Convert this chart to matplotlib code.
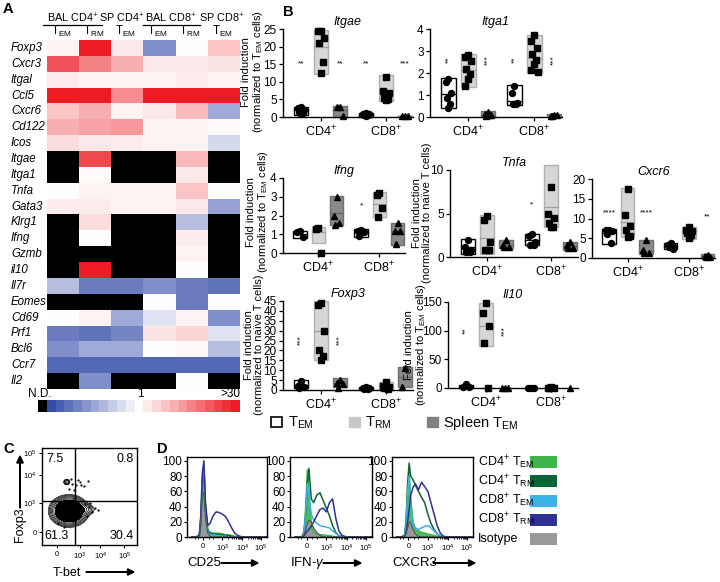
import numpy as np
import matplotlib
matplotlib.use('Agg')
import matplotlib.pyplot as plt
from matplotlib.colors import LinearSegmentedColormap
from matplotlib.patches import Rectangle, Patch, FancyArrow

plt.rcParams['font.family'] = ['Liberation Sans', 'DejaVu Sans']
plt.rcParams['mathtext.fontset'] = 'custom'
plt.rcParams['mathtext.rm'] = 'Liberation Sans'
plt.rcParams['mathtext.it'] = 'Liberation Sans:italic'
plt.rcParams['axes.linewidth'] = 1.0

TEM = r'T$_{\mathrm{EM}}$'
TRM = r'T$_{\mathrm{RM}}$'
ND = np.nan

# ---------------- A: heatmap data (score -1 blue .. 0 white .. 1 red, nan = N.D.)
genes = ['Foxp3', 'Cxcr3', 'Itgal', 'Ccl5', 'Cxcr6', 'Cd122', 'Icos', 'Itgae', 'Itga1',
         'Tnfa', 'Gata3', 'Klrg1', 'Ifng', 'Gzmb', 'il10', 'Il7r', 'Eomes', 'Cd69',
         'Prf1', 'Bcl6', 'Ccr7', 'Il2']
heat = np.array([
    [0.05, 1.0, 0.1, -0.6, 0.0, 0.25],
    [0.75, 0.55, 0.35, 0.1, 0.1, 0.12],
    [0.08, 0.05, 0.05, 0.05, 0.08, 0.05],
    [1.0, 1.0, 0.5, 1.0, 1.0, 1.0],
    [0.25, 0.35, 0.05, 0.1, 0.3, -0.45],
    [0.35, 0.4, 0.45, 0.05, 0.05, 0.02],
    [0.15, 0.1, 0.08, 0.05, 0.05, -0.2],
    [ND, 0.8, ND, ND, 0.3, ND],
    [ND, 0.02, ND, ND, 0.1, ND],
    [0.0, 0.05, 0.05, 0.05, 0.25, 0.0],
    [0.08, 0.08, 0.05, 0.05, 0.1, -0.5],
    [ND, 0.15, ND, ND, -0.35, ND],
    [ND, 0.0, ND, ND, 0.08, ND],
    [ND, ND, ND, ND, 0.05, ND],
    [ND, 1.0, ND, ND, 0.0, ND],
    [-0.35, -0.7, -0.7, -0.6, -0.7, -0.75],
    [ND, ND, ND, 0.0, -0.7, 0.0],
    [0.0, 0.05, -0.45, -0.15, 0.05, -0.6],
    [-0.7, -0.75, -0.65, 0.12, 0.18, -0.15],
    [-0.6, -0.45, -0.45, 0.0, 0.03, -0.35],
    [-0.8, -0.8, -0.8, -0.8, -0.8, -0.8],
    [ND, -0.6, ND, ND, 0.0, ND],
])
col_sub = [TEM, TRM, TEM, TEM, TRM, TEM]
col_groups = ['BAL CD4$^{+}$', 'SP CD4$^{+}$', 'BAL CD8$^{+}$', 'SP CD8$^{+}$']
cbar_steps = [ND] + list(np.linspace(-0.95, -0.08, 10)) + [0.0] + list(np.linspace(0.08, 1.0, 11))

# ---------------- B: fold induction, groups = CD4 TEM, CD4 TRM, CD4 spleen, CD8 TEM, CD8 TRM, CD8 spleen
itgae_pts = [[2.7, 2.5, 2.0, 1.5, 1.0, 0.8], [24.3, 24.3, 22.5, 21.0, 15.5, 12.5], [2.9, 2.8, 0.2],
             [1.0, 0.9, 0.8, 0.6, 0.5, 0.3], [11.5, 7.5, 6.8, 5.5, 5.0, 4.8], [0.3, 0.2, 0.2]]
itgae_box = [(0.5, 2.9, 1.9), (12.3, 24.6, 19.8), (0, 3.1, 1.9), (0.1, 1.1, 0.6), (4.6, 11.8, 7.5), (0, 0.4, 0.2)]
itgae_stars = [(0, 15, '**'), (2, 15, '**'), (3, 15, '**'), (5, 15, '***')]

itga1_pts = [[1.75, 1.6, 1.1, 0.85, 0.6, 0.4], [2.8, 2.75, 2.55, 2.2, 1.95, 1.75, 1.4],
             [0.25, 0.12, 0.08, 0.05, 0.1], [1.4, 1.1, 0.65, 0.6, 0.6],
             [3.72, 3.45, 3.15, 2.85, 2.6, 2.4, 2.15, 2.05], [0.1, 0.05, 0.08, 0.03]]
itga1_box = [(0.4, 1.75, 1.05), (1.38, 2.85, 2.15), (0, 0.28, 0.1), (0.55, 1.45, 0.75), (2.0, 3.75, 2.68), (0, 0.12, 0.05)]
itga1_stars = [(0, 2.6, '**'), (2, 2.6, '***'), (3, 2.6, '**'), (5, 2.6, '***')]

ifng_pts = [[1.2, 1.1, 0.85], [1.35, 1.3, 0.0], [3.0, 2.0, 1.6, 1.5],
            [1.25, 1.2, 1.1, 0.9], [3.2, 3.1, 2.4, 1.9], [1.6, 1.2, 1.15, 0.5]]
ifng_box = [(0.8, 1.2, 1.0), (0.55, 1.4, 1.1), (1.5, 3.05, 2.15), (0.88, 1.28, 1.1), (1.9, 3.25, 2.6), (0.45, 1.6, 1.15)]
ifng_stars = [(3, 2.5, '*')]

tnfa_pts = [[2.0, 1.1, 0.8, 0.6, 0.6], [4.7, 4.2, 1.7, 0.85, 0.85, 0.85], [1.9, 1.35, 1.1, 1.1],
            [2.6, 2.4, 1.7, 1.35, 1.35], [8.0, 5.0, 4.5, 3.9, 3.5, 3.5], [1.7, 1.35, 1.0, 1.0]]
tnfa_box = [(0.4, 2.1, 1.2), (0.3, 4.8, 2.2), (1.0, 2.0, 1.4), (1.35, 2.6, 1.9), (3.4, 10.6, 5.8), (0.8, 1.7, 1.3)]
tnfa_stars = [(3, 6.0, '*')]

cxcr6_pts = [[7.2, 7.0, 6.8, 6.2, 3.8], [17.5, 11.0, 8.0, 7.0, 5.6, 5.3], [4.5, 1.9, 1.3, 1.3],
             [3.8, 3.3, 3.0, 2.8, 2.4], [7.8, 7.0, 6.8, 6.4, 5.8, 5.0], [0.8, 0.5, 0.3, 0.2]]
cxcr6_box = [(3.6, 7.4, 6.4), (5.3, 17.6, 9.0), (1.1, 4.6, 1.8), (2.3, 3.9, 3.1), (4.8, 7.9, 6.8), (0, 0.9, 0.4)]
cxcr6_stars = [(0, 11.5, '****'), (2, 11.5, '****'), (5, 10.5, '**')]

foxp3_pts = [[4.5, 2.0, 1.5, 1.0], [44, 43, 30, 20, 17, 15], [5.0, 3.5, 3.0, 1.0],
             [1.5, 1.0, 0.8, 0.5, 0.3], [4.0, 2.0, 1.5, 1.0, 0.5], [11.0, 1.5]]
foxp3_box = [(1.0, 5.0, 2.5), (15, 45, 30), (1.5, 6.0, 3.5), (0.2, 1.6, 0.8), (0, 4.0, 2.0), (1.5, 11.5, 6.5)]
foxp3_stars = [(0, 25, '***'), (2, 25, '***')]

il10_pts = [[7, 2, 1], [148, 130, 108, 78, 0], [0, 0, 0], [0, 0, 0], [1, 0.5, 0, 0], [0.5]]
il10_box = [(0, 5, 2), (74, 148, 108), None, None, None, None]
il10_stars = [(0, 100, '**'), (2, 100, '***')]

# ---------------- C: Foxp3 vs T-bet contour (population blobs: x, y, sx, sy, weight)
pop_x = [1.5, 2.3, 1.38]
pop_y = [1.86, 1.95, 3.44]
pop_sx = [0.37, 0.3, 0.09]
pop_sy = [0.29, 0.15, 0.08]
pop_w = [1.0, 0.06, 0.05]
dots_x = [2.6, 2.8, 2.95, 2.5, 2.7, 3.1, 2.4, 1.7, 1.9, 2.1, 2.35, 1.6, 1.8, 2.0, 2.2, 1.5, 2.55, 0.9, 1.0, 1.2]
dots_y = [2.1, 1.8, 2.0, 1.6, 2.3, 1.9, 2.25, 3.35, 3.3, 3.45, 3.2, 3.6, 3.0, 3.55, 3.3, 3.05, 3.5, 1.2, 1.6, 1.0]
quad_text = ['7.5', '0.8', '61.3', '30.4']

# ---------------- D: histograms (% of max) on display axis
hx = [0.3, 0.6, 0.8, 0.9, 1.0, 1.1, 1.2, 1.35, 1.5, 1.7, 1.9, 2.1, 2.3, 2.5, 2.7, 2.9, 3.1, 3.3, 3.6, 3.9, 4.3, 4.8, 5.2]
hist_names = ['CD4$^{+}$ ' + TEM, 'CD4$^{+}$ ' + TRM, 'CD8$^{+}$ ' + TEM, 'CD8$^{+}$ ' + TRM, 'Isotype']
hist_colors = ['#3db54a', '#0b6534', '#3bb3e5', '#2e3192', '#999999']
cd25 = [
    [0, 0, 2, 20, 75, 95, 40, 10, 6, 5, 5, 5, 4, 3, 3, 2, 1, 0, 0, 0, 0, 0, 0],
    [0, 0, 2, 18, 70, 90, 35, 8, 5, 4, 4, 3, 3, 2, 2, 1, 0, 0, 0, 0, 0, 0, 0],
    [0, 0, 3, 25, 80, 92, 30, 6, 3, 3, 2, 2, 1, 1, 0, 0, 0, 0, 0, 0, 0, 0, 0],
    [0, 0, 2, 30, 85, 100, 45, 15, 18, 28, 33, 32, 30, 27, 20, 12, 5, 2, 0, 0, 0, 0, 0],
    [0, 0, 3, 25, 60, 55, 25, 5, 1, 0, 0, 0, 0, 0, 0, 0, 0, 0, 0, 0, 0, 0, 0],
]
ifng = [
    [0, 0, 1, 10, 40, 88, 60, 15, 6, 4, 3, 3, 2, 2, 1, 0, 0, 0, 0, 0, 0, 0, 0],
    [0, 0, 1, 8, 30, 70, 90, 50, 45, 55, 58, 48, 38, 28, 15, 6, 2, 0, 0, 0, 0, 0, 0],
    [0, 0, 1, 8, 35, 70, 55, 30, 22, 18, 15, 14, 13, 12, 8, 5, 2, 0, 0, 0, 0, 0, 0],
    [0, 0, 0, 2, 5, 8, 10, 14, 20, 28, 36, 38, 33, 45, 50, 25, 8, 2, 0, 0, 0, 0, 0],
    [0, 0, 1, 4, 10, 18, 22, 20, 12, 6, 2, 0, 0, 0, 0, 0, 0, 0, 0, 0, 0, 0, 0],
]
cxcr3 = [
    [0, 0, 2, 15, 55, 85, 50, 20, 10, 8, 6, 5, 4, 3, 2, 1, 0, 0, 0, 0, 0, 0, 0],
    [0, 0, 2, 20, 70, 97, 80, 75, 68, 60, 52, 45, 30, 18, 10, 4, 1, 0, 0, 0, 0, 0, 0],
    [0, 0, 2, 15, 60, 80, 40, 18, 12, 10, 12, 14, 15, 12, 8, 4, 2, 0, 0, 0, 0, 0, 0],
    [0, 0, 1, 5, 20, 35, 55, 65, 70, 62, 72, 66, 60, 45, 30, 15, 5, 1, 0, 0, 0, 0, 0],
    [0, 0, 1, 5, 12, 20, 18, 10, 4, 1, 0, 0, 0, 0, 0, 0, 0, 0, 0, 0, 0, 0, 0],
]
hist_sets = [('CD25', cd25), ('IFN-$\\gamma$', ifng), ('CXCR3', cxcr3)]

# ======================================================================
fig = plt.figure(figsize=(7.2, 5.82), dpi=100)
W, H = 720., 582.


def rect(x0, y0, x1, y1):
    # pixel box (top-left origin) -> figure fraction
    return [x0 / W, 1 - y1 / H, (x1 - x0) / W, (y1 - y0) / H]


def fp(x, y):
    return (x / W, 1 - y / H)


def arrow(x, y, dx, dy):
    # dx, dy in pixels, y pointing down
    horiz = dx != 0
    fig.patches.append(FancyArrow(*fp(x, y), dx / W, -dy / H, width=0.0006 if horiz else 0.0007,
                                  head_width=0.011 if horiz else 0.009,
                                  head_length=0.009 if horiz else 0.012, color='black',
                                  transform=fig.transFigure, length_includes_head=True))


for lab, (x, y) in zip('ABCD', [(3, 9), (283, 12), (3, 449), (157, 449)]):
    fig.text(*fp(x, y), lab, fontsize=10.5, fontweight='bold', va='center')

# ---- A heatmap
cmap = LinearSegmentedColormap.from_list('bwr2', ['#2b45a5', '#ffffff', '#ec1c24'])
cmap.set_bad('black')
axA = fig.add_axes(rect(47, 40, 240, 389))
axA.imshow(np.ma.masked_invalid(heat), cmap=cmap, vmin=-1, vmax=1, aspect='auto',
           interpolation='nearest')
axA.set_xticks([])
axA.set_yticks([])
for s in axA.spines.values():
    s.set_visible(False)
for i, g in enumerate(genes):
    axA.text((11 - 47) / 193., i, g, transform=axA.get_yaxis_transform(), fontsize=8.3,
             style='italic', ha='left', va='center')

for name, xc in zip(col_groups, [73, 122, 171, 222]):
    fig.text(*fp(xc, 18), name, fontsize=7.8, ha='center', va='center')
for x0, x1 in [(43, 102), (143, 200)]:
    fig.add_artist(plt.Line2D([x0 / W, x1 / W], [1 - 24.5 / H] * 2, color='black', lw=0.9))
for j, sub in enumerate(col_sub):
    fig.text(*fp(47 + 32.2 * j + 14, 31), sub, fontsize=8.5, ha='center', va='center')

# colour key
axK = fig.add_axes(rect(38, 400, 240, 412))
axK.imshow(np.ma.masked_invalid([cbar_steps]), cmap=cmap, vmin=-1, vmax=1, aspect='auto',
           interpolation='nearest')
axK.set_xticks([])
axK.set_yticks([])
for s in axK.spines.values():
    s.set_visible(False)
fig.text(*fp(28, 394), 'N.D.', fontsize=8.5, ha='left', va='center')
fig.text(*fp(140, 394), '1', fontsize=8.5, ha='center', va='center')
fig.text(*fp(240, 394), '>30', fontsize=8.5, ha='right', va='center')

# ---- B dot/box panels
gx = [0.7, 1.0, 1.3, 1.7, 2.0, 2.3]
gmark = ['o', 's', '^'] * 2
gface = ['white', '#d6d6d6', '#8a8a8a'] * 2
gedge = ['black', '#b0b0b0', '#707070'] * 2
gline = ['black', '#a0a0a0', '#6a6a6a'] * 2
jit = [0.0, -0.045, 0.045, -0.03, 0.03, 0.0, -0.05, 0.05]


def dotbox(box, title, pts, boxes, stars, ylim, yticks, vstars=False):
    ax = fig.add_axes(box)
    for k in range(6):
        b = boxes[k]
        if b is not None:
            lo, hi, mid = b
            ax.add_patch(Rectangle((gx[k] - 0.11, lo), 0.22, hi - lo, facecolor=gface[k],
                                   edgecolor=gedge[k], lw=1.0, clip_on=False, zorder=2))
            ax.plot([gx[k] - 0.11, gx[k] + 0.11], [mid, mid], color=gline[k], lw=0.9,
                    clip_on=False, zorder=3)
        xs = [gx[k] + jit[i % len(jit)] for i in range(len(pts[k]))]
        ax.plot(xs, pts[k], ls='none', marker=gmark[k], color='black', ms=4.3,
                clip_on=False, zorder=4)
    for k, y, s in stars:
        ax.text(gx[k], y, s, fontsize=6, ha='center', va='center',
                rotation=90 if vstars else 0)
    ax.set_xlim(0.42, 2.42)
    ax.set_ylim(*ylim)
    ax.set_yticks(yticks)
    ax.set_xticks([1, 2])
    ax.set_xticklabels(['CD4$^{+}$', 'CD8$^{+}$'])
    ax.tick_params(axis='x', labelsize=9, length=3, width=0.9, pad=2)
    ax.tick_params(axis='y', labelsize=8.5, length=3, width=0.9, pad=1.5)
    ax.spines['top'].set_visible(False)
    ax.spines['right'].set_visible(False)
    ax.set_title(title, fontsize=9, style='italic', pad=3)
    return ax


lab_tem = 'Fold induction\n(normalized to ' + TEM + ' cells)'
lab_naive = 'Fold induction\n(normalized to na\u00efve T cells)'

dotbox(rect(283, 29, 413, 117), 'Itgae', itgae_pts, itgae_box, itgae_stars, (0, 25),
       [0, 5, 10, 15, 20, 25])
dotbox(rect(430, 29, 562, 117), 'Itga1', itga1_pts, itga1_box, itga1_stars, (0, 4),
       [0, 1, 2, 3, 4], vstars=True)
dotbox(rect(283, 178, 405, 253), 'Ifng', ifng_pts, ifng_box, ifng_stars, (0, 4),
       [0, 1, 2, 3, 4])
dotbox(rect(450, 170, 578, 257), 'Tnfa', tnfa_pts, tnfa_box, tnfa_stars, (0, 10),
       [0, 5, 10])
dotbox(rect(592, 179, 715, 258), 'Cxcr6', cxcr6_pts, cxcr6_box, cxcr6_stars, (0, 20),
       [0, 5, 10, 15, 20])
dotbox(rect(283, 301, 413, 390), 'Foxp3', foxp3_pts, foxp3_box, foxp3_stars, (0, 45),
       list(range(0, 46, 5)), vstars=True)
dotbox(rect(448, 302, 578, 388), 'Il10', il10_pts, il10_box, il10_stars, (0, 150),
       [0, 50, 100, 150], vstars=True)

for txt, (x, y) in [(lab_tem, (253, 72)), (lab_tem, (258, 212)), (lab_naive, (422, 213)),
                    (lab_naive, (254, 345)), (lab_tem, (416, 345))]:
    fig.text(*fp(x, y), txt, fontsize=8, rotation=90, ha='center', va='center',
             multialignment='center', linespacing=1.0)

leg_handles = [Patch(facecolor='white', edgecolor='black', lw=1.2),
               Patch(facecolor='#c8c8c8', edgecolor='#c8c8c8'),
               Patch(facecolor='#808080', edgecolor='#808080')]
fig.legend(leg_handles, [TEM, TRM, 'Spleen ' + TEM], loc='center', ncol=3,
           bbox_to_anchor=fp(395, 423), frameon=False, fontsize=10.5,
           handlelength=0.75, handleheight=0.75, columnspacing=2.4, handletextpad=0.4)

# ---- C contour
axC = fig.add_axes(rect(42, 448, 137, 545))
gxx, gyy = np.meshgrid(np.linspace(0, 5.3, 300), np.linspace(0, 5.3, 300))
dens = np.zeros_like(gxx)
for cx, cy, sx, sy, w in zip(pop_x, pop_y, pop_sx, pop_sy, pop_w):
    dens += w * np.exp(-0.5 * (((gxx - cx) / sx) ** 2 + ((gyy - cy) / sy) ** 2))
axC.contourf(gxx, gyy, dens, levels=[0.12, 10], colors='black')
axC.contour(gxx, gyy, dens, levels=np.geomspace(0.008, 0.12, 7), colors='black', linewidths=0.5)
axC.plot(dots_x, dots_y, ls='none', marker='.', ms=1.2, color='black')
axC.axvline(1.84, color='black', lw=1.0)
axC.axhline(2.4, color='black', lw=1.0)
axC.set_xlim(0, 5.3)
axC.set_ylim(0, 5.3)
log_labels = ['0', '$10^{3}$', '$10^{4}$', '$10^{5}$']
axC.set_xticks([0.85, 2.1, 3.25, 4.6])
axC.set_xticklabels(log_labels)
axC.set_yticks([0.7, 2.3, 3.8, 5.0])
axC.set_yticklabels(log_labels)
axC.tick_params(labelsize=5.5, length=2.5, width=0.7, pad=1.5)
axC.text(0.05, 0.95, quad_text[0], transform=axC.transAxes, fontsize=9, va='top')
axC.text(0.97, 0.95, quad_text[1], transform=axC.transAxes, fontsize=9, va='top', ha='right')
axC.text(0.03, 0.03, quad_text[2], transform=axC.transAxes, fontsize=9, va='bottom')
axC.text(0.97, 0.03, quad_text[3], transform=axC.transAxes, fontsize=9, va='bottom', ha='right')
fig.text(*fp(20, 525), 'Foxp3', fontsize=9, rotation=90, ha='center', va='center')
fig.text(*fp(67, 573), 'T-bet', fontsize=9, ha='center', va='center')
arrow(20, 508, 0, -52)
arrow(86, 572, 48, 0)

# ---- D histograms
d_boxes = [rect(187, 457, 267, 537), rect(290, 457, 372, 537), rect(392, 457, 473, 537)]
arrow_x = [(221, 37), (323, 38), (433, 42)]
minor = [2.3 + np.log10(k) * 1.3 for k in range(2, 10)] + [3.6 + np.log10(k) * 1.2 for k in range(2, 10)] \
        + [0.5, 0.7, 1.4, 1.7]
for bx, (name, curves), (ax0, alen) in zip(d_boxes, hist_sets, arrow_x):
    ax = fig.add_axes(bx)
    ax.fill_between(hx, curves[0], color=hist_colors[0], lw=0, alpha=0.9)
    ax.fill_between(hx, curves[4], color=hist_colors[4], lw=0)
    for c, col in zip(curves[:4], hist_colors[:4]):
        ax.plot(hx, c, color=col, lw=1.1)
    ax.plot(hx, curves[4], color='#555555', lw=0.8)
    ax.set_xlim(0, 5.2)
    ax.set_ylim(0, 105)
    ax.set_yticks([0, 20, 40, 60, 80, 100])
    ax.set_xticks([1.05, 2.3, 3.6, 4.8])
    ax.set_xticklabels(log_labels)
    ax.set_xticks(minor, minor=True)
    ax.tick_params(axis='y', labelsize=8.5, length=2.5, pad=1)
    ax.tick_params(axis='x', labelsize=5.5, length=2.5, pad=1.5)
    ax.tick_params(axis='x', which='minor', length=1.5)
    fig.text(*fp(bx[0] * W, 563), name, fontsize=9.5, ha='left', va='center')
    arrow(ax0, 563, alen, 0)

for i, (nm, col) in enumerate(zip(hist_names, hist_colors)):
    y = 462 + 19.3 * i
    fig.text(*fp(478, y), nm, fontsize=9, ha='left', va='center')
    fig.patches.append(Rectangle(fp(530, y + 6), 27 / W, 12 / H, facecolor=col, edgecolor='none',
                                 transform=fig.transFigure))

fig.savefig('out.png', dpi=100)
